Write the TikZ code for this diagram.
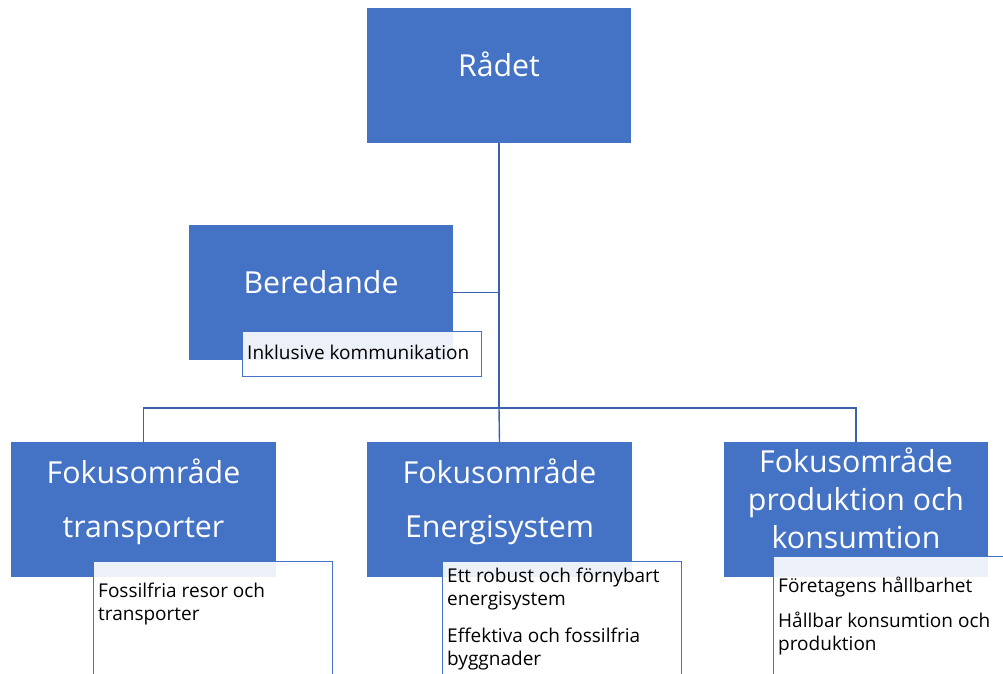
\documentclass[tikz,border=0pt]{standalone}
\usepackage{fontspec}
\setmainfont{Open Sans}
\definecolor{mainblue}{RGB}{68,114,196}
\definecolor{linecol}{RGB}{58,98,172}
\tikzset{
  mainbox/.style={fill=mainblue, draw=none, inner sep=0pt, minimum width=#1, minimum height=135pt},
  subbox/.style={fill=white, fill opacity=0.9, draw=mainblue, line width=0.9pt, inner sep=0pt},
  bigtxt/.style={text=white, font=\fontsize{30.3}{34}\selectfont, anchor=base, inner sep=0pt},
  smalltxt/.style={text=black, font=\fontsize{19}{22}\selectfont, anchor=base west, inner sep=0pt},
  conn/.style={draw=linecol, line width=1.4pt}
}
\begin{document}
\begin{tikzpicture}[x=1pt,y=-1pt]
\useasboundingbox (0,0) rectangle (1003,673);
\clip (0,0) rectangle (1003,673);
% main boxes
\node[mainbox=264pt] (r) at (499,75.5) {};
\node[mainbox=264pt] (b) at (321,292.5) {};
\node[mainbox=265pt] (t) at (143.5,509.5) {};
\node[mainbox=265pt] (e) at (499.5,509.5) {};
\node[mainbox=264pt] (p) at (856,509.5) {};
% connectors
\coordinate (bus) at (499,408);
\draw[conn] (r.south) -- (bus);
\draw[conn] (b.east) -- (b.east -| r.south);
\draw[conn] (t.north) |- (bus) -| (p.north);
\draw[conn] (bus) -- (e.north);
% sub boxes
\node[subbox, minimum width=239pt, minimum height=45pt] (bi) at (361.5,353.5) {};
\node[subbox, minimum width=239pt, minimum height=139pt] (ts) at (212.5,630.5) {};
\node[subbox, minimum width=239pt, minimum height=139pt] (es) at (561.5,630.5) {};
\node[subbox, minimum width=239pt, minimum height=144pt] (ps) at (892.5,628) {};
% big texts
\node[bigtxt] (rt) at (499,76) {Rådet};
\node[bigtxt] (bt) at (321,293) {Beredande};
\node[bigtxt] (tt1) at (143.5,483) {Fokusområde};
\node[bigtxt] (tt2) at (143.5,537) {transporter};
\node[bigtxt] (et1) at (499.5,483) {Fokusområde};
\node[bigtxt] (et2) at (499.5,537) {Energisystem};
\node[bigtxt] (pt1) at (856,472) {Fokusområde};
\node[bigtxt] (pt2) at (856,510) {produktion och};
\node[bigtxt] (pt3) at (856,548) {konsumtion};
% small texts
\node[smalltxt] (bit) at (247,359) {Inklusive kommunikation};
\node[smalltxt] (ts1) at (98,597) {Fossilfria resor och};
\node[smalltxt] (ts2) at (98,620) {transporter};
\node[smalltxt] (es1) at (447,582) {Ett robust och förnybart};
\node[smalltxt] (es2) at (447,605) {energisystem};
\node[smalltxt] (es3) at (447,642) {Effektiva och fossilfria};
\node[smalltxt] (es4) at (447,665) {byggnader};
\node[smalltxt] (ps1) at (778,592) {Företagens hållbarhet};
\node[smalltxt] (ps2) at (778,627) {Hållbar konsumtion och};
\node[smalltxt] (ps3) at (778,650) {produktion};
\end{tikzpicture}
\end{document}
